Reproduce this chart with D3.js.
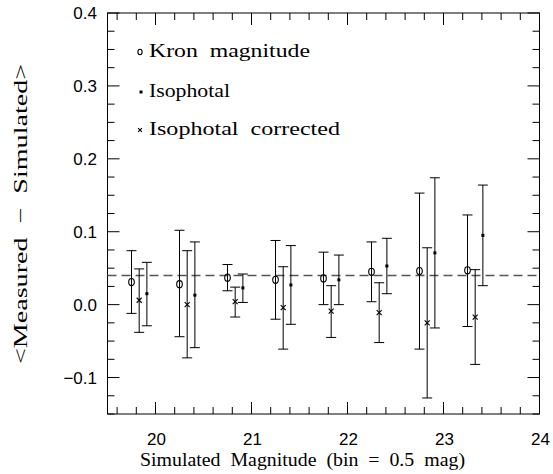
<!DOCTYPE html>
<html><head><meta charset="utf-8">
<script src="https://cdn.jsdelivr.net/npm/d3@7"></script>
<style>body{margin:0;background:#fff}svg{display:block}</style>
</head><body>
<script>
// ---- data ----
const bins = [19.75, 20.25, 20.75, 21.25, 21.75, 22.25, 22.75, 23.25];
const kronVal = [0.031, 0.028, 0.037, 0.034, 0.036, 0.045, 0.046, 0.047];
const kronLo  = [-0.012, -0.044, 0.019, -0.020, 0.000, 0.004, -0.061, -0.030];
const kronHi  = [0.074, 0.102, 0.055, 0.088, 0.072, 0.086, 0.153, 0.123];
const isoVal  = [0.015, 0.013, 0.023, 0.027, 0.034, 0.053, 0.071, 0.095];
const isoLo   = [-0.029, -0.059, 0.003, -0.027, 0.000, 0.015, -0.032, 0.026];
const isoHi   = [0.058, 0.086, 0.042, 0.081, 0.068, 0.091, 0.174, 0.164];
const corVal  = [0.006, 0.000, 0.004, -0.004, -0.009, -0.011, -0.025, -0.017];
const corLo   = [-0.038, -0.073, -0.017, -0.061, -0.045, -0.052, -0.128, -0.082];
const corHi   = [0.049, 0.074, 0.024, 0.052, 0.026, 0.030, 0.078, 0.048];
const refLine = 0.04;
const xTicks = [20, 21, 22, 23, 24];
const yTicks = [-0.1, 0.0, 0.1, 0.2, 0.3, 0.4];
const legendLabels = ["Kron  magnitude", "Isophotal", "Isophotal  corrected"];
const xTitle = "Simulated  Magnitude  (bin  =  0.5  mag)";
const yTitle = "<Measured  \u2212  Simulated>";

// ---- layout ----
const W = 553, H = 474;
const L = 107.5, R = 539.5, T = 13, B = 414;
const svg = d3.select("body").append("svg").attr("width", W).attr("height", H);
const x = d3.scaleLinear().domain([19.5, 24]).range([L, R]);
const y = d3.scaleLinear().domain([-0.15, 0.4]).range([B, T]);

const serif = "'Liberation Serif', serif";
const sans = "'Liberation Sans', sans-serif";

// frame
svg.append("rect").attr("x", L).attr("y", T).attr("width", R - L).attr("height", B - T)
  .attr("fill", "none").attr("stroke", "#000").attr("stroke-width", 1);

// ticks (inward on all sides)
const xMinor = d3.range(19.6, 24.0001, 0.2).map(v => +v.toFixed(2));
const yMinor = d3.range(-0.15, 0.4001, 0.025).map(v => +v.toFixed(3));
const isMajX = v => Math.abs(v - Math.round(v)) < 1e-6;
const isMajY = v => Math.abs(v * 10 - Math.round(v * 10)) < 1e-6;
const tg = svg.append("g").attr("stroke", "#000").attr("stroke-width", 1);
xMinor.forEach(v => {
  const len = isMajX(v) ? 12 : 7;
  tg.append("line").attr("x1", x(v)).attr("x2", x(v)).attr("y1", B).attr("y2", B - len);
  tg.append("line").attr("x1", x(v)).attr("x2", x(v)).attr("y1", T).attr("y2", T + len);
});
yMinor.forEach(v => {
  const len = isMajY(v) ? 12 : 7;
  tg.append("line").attr("y1", y(v)).attr("y2", y(v)).attr("x1", L).attr("x2", L + len);
  tg.append("line").attr("y1", y(v)).attr("y2", y(v)).attr("x1", R).attr("x2", R - len);
});

// tick labels
svg.append("g").selectAll("text").data(xTicks).join("text")
  .attr("x", d => x(d) + 1).attr("y", 445).attr("text-anchor", "middle")
  .attr("font-family", sans).attr("font-size", 17).text(d => d);
svg.append("g").selectAll("text").data(yTicks).join("text")
  .attr("x", 97).attr("y", d => y(d) + 6).attr("text-anchor", "end")
  .attr("font-family", sans).attr("font-size", 17)
  .text(d => d < 0 ? "\u2212" + Math.abs(d).toFixed(1) : d.toFixed(1));

// titles
svg.append("text").attr("x", 140).attr("y", 466).attr("font-family", serif).attr("font-size", 19)
  .attr("textLength", 325).attr("lengthAdjust", "spacingAndGlyphs")
  .style("white-space", "pre").text(xTitle);
svg.append("text").attr("transform", "translate(27,364) rotate(-90)")
  .attr("font-family", serif).attr("font-size", 19)
  .attr("textLength", 300).attr("lengthAdjust", "spacingAndGlyphs")
  .style("white-space", "pre").text(yTitle);

// reference dashed line
svg.append("line").attr("x1", L).attr("x2", R).attr("y1", y(refLine)).attr("y2", y(refLine))
  .attr("stroke", "#555").attr("stroke-width", 1.5).attr("stroke-dasharray", "9,5");

// error bars + markers
const series = [
  {val: kronVal, lo: kronLo, hi: kronHi, off: 0, type: "o"},
  {val: corVal, lo: corLo, hi: corHi, off: 0.08, type: "x"},
  {val: isoVal, lo: isoLo, hi: isoHi, off: 0.16, type: "."}
];
function marker(g, type, cx, cy, scale) {
  if (type === "o") {
    g.append("ellipse").attr("cx", cx).attr("cy", cy).attr("rx", 2.8 * scale).attr("ry", 3.6 * scale)
      .attr("fill", "none").attr("stroke", "#000").attr("stroke-width", 1.1);
  } else if (type === "x") {
    const s = 2.5 * scale;
    g.append("path").attr("d", `M${cx - s},${cy - s}L${cx + s},${cy + s}M${cx - s},${cy + s}L${cx + s},${cy - s}`)
      .attr("stroke", "#000").attr("stroke-width", 1.1);
  } else {
    g.append("rect").attr("x", cx - 1.5).attr("y", cy - 1.5).attr("width", 3).attr("height", 3).attr("fill", "#000");
  }
}
const eg = svg.append("g");
series.forEach(s => {
  bins.forEach((b, i) => {
    const cx = x(b + s.off);
    const capW = 5;
    eg.append("line").attr("x1", cx).attr("x2", cx).attr("y1", y(s.hi[i])).attr("y2", y(s.lo[i]))
      .attr("stroke", "#000").attr("stroke-width", 1);
    [s.hi[i], s.lo[i]].forEach(v => {
      eg.append("line").attr("x1", cx - capW).attr("x2", cx + capW).attr("y1", y(v)).attr("y2", y(v))
        .attr("stroke", "#000").attr("stroke-width", 1);
    });
    marker(eg, s.type, cx, y(s.val[i]), 1);
  });
});

// legend
const legY = [52, 92, 130];
const legType = ["o", ".", "x"];
const legLen = [161, 81, 191];
const lg = svg.append("g");
legendLabels.forEach((t, i) => {
  const st = legType[i];
  if (st === ".") lg.append("rect").attr("x", 139.5).attr("y", legY[i] - 1.5).attr("width", 3).attr("height", 3);
  else marker(lg, st, 140, legY[i], 0.75);
  lg.append("text").attr("x", 149).attr("y", legY[i] + 5).attr("font-family", serif).attr("font-size", 19)
    .attr("textLength", legLen[i]).attr("lengthAdjust", "spacingAndGlyphs")
    .style("white-space", "pre").text(t);
});
</script>
</body></html>
